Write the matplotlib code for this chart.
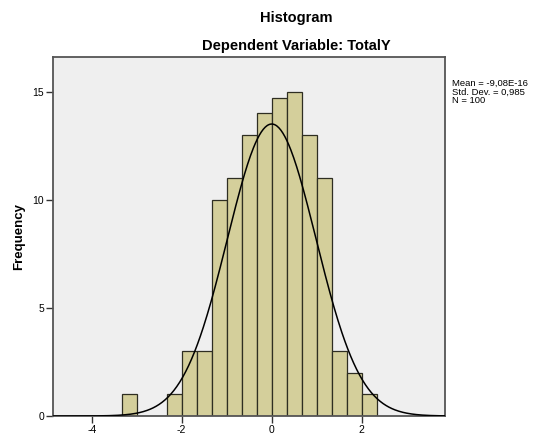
import numpy as np
import matplotlib
matplotlib.use("Agg")
import matplotlib.pyplot as plt

plt.rcParams['font.family'] = ['Liberation Sans', 'DejaVu Sans']
plt.rcParams['axes.unicode_minus'] = False

# histogram bins (width 1/3) and frequencies
bin_left = [-10/3, -9/3, -8/3, -7/3, -6/3, -5/3, -4/3, -3/3, -2/3, -1/3,
            0, 1/3, 2/3, 3/3, 4/3, 5/3, 6/3]
freq = [1, 0, 0, 1, 3, 3, 10, 11, 13, 14, 14.7, 15, 13, 11, 3, 2, 1]
bin_width = 1/3

# fitted normal curve parameters
mean = -9.08e-16
std = 0.985
n = 100

xticks = [-4, -2, 0, 2]
yticks = [0, 5, 10, 15]

fig = plt.figure(figsize=(5.33, 4.34), dpi=100)
ax = fig.add_axes([53/533, 1 - 416/434, (445 - 53)/533, (416 - 57)/434])
ax.set_facecolor('#efefef')

ax.bar(bin_left, freq, width=bin_width, align='edge',
       color='#d4cf9b', edgecolor='#2e2e22', linewidth=0.9, zorder=2)

xs = np.linspace(-4.86, 3.85, 400)
pdf = n * bin_width / (std * np.sqrt(2 * np.pi)) * np.exp(-0.5 * ((xs - mean) / std) ** 2)
ax.plot(xs, pdf, color='black', linewidth=1.1, zorder=3)

ax.set_xlim(-4.86, 3.85)
ax.set_ylim(0, 16.6)
ax.set_xticks(xticks)
ax.set_yticks(yticks)
ax.tick_params(labelsize=7.5, length=5, width=1, color='#333333', pad=1.5)
for s in ax.spines.values():
    s.set_color('#555555')
    s.set_linewidth(1.3)

ax.set_ylabel('Frequency', fontsize=9.5, fontweight='bold', labelpad=5)

fig.text(296/533, 1 - 18/434, 'Histogram', ha='center', va='center',
         fontsize=10.5, fontweight='bold')
fig.text(296/533, 1 - 46/434, 'Dependent Variable: TotalY', ha='center', va='center',
         fontsize=10.5, fontweight='bold')

fig.text(452/533, 1 - 79/434,
         'Mean = -9,08E-16\nStd. Dev. = 0,985\nN = 100',
         ha='left', va='top', fontsize=6.8, linespacing=0.95)

fig.savefig('out.png', dpi=100)
